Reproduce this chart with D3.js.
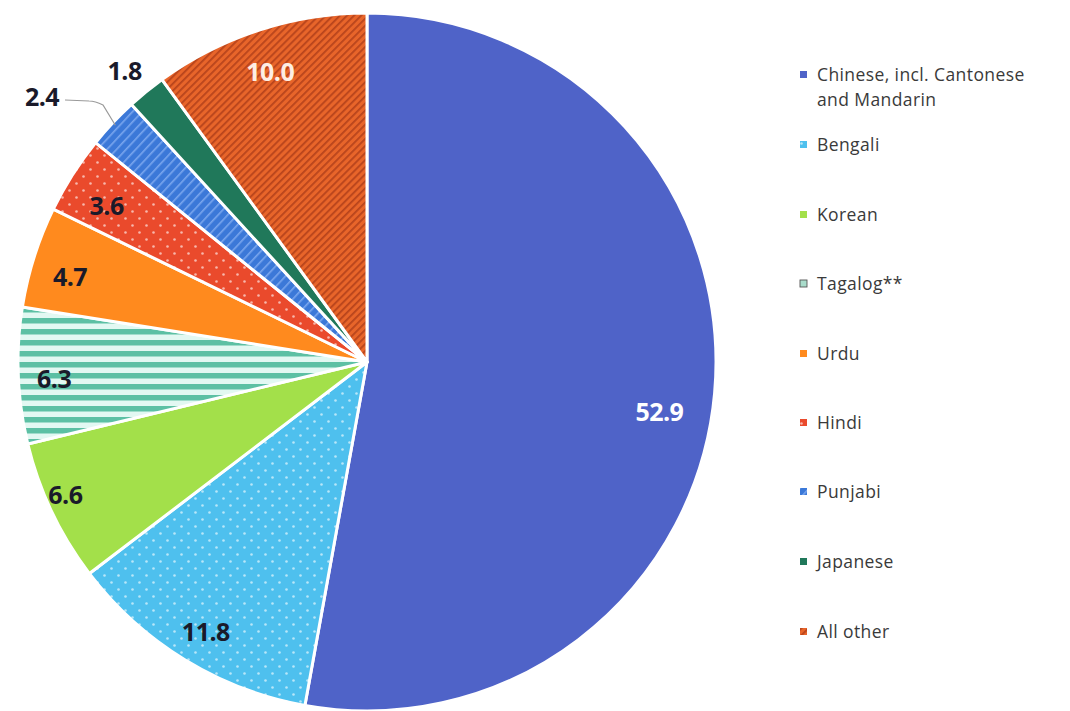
<!DOCTYPE html>
<html><head><meta charset="utf-8">
<script src="https://cdn.jsdelivr.net/npm/d3@7"></script>
<style>body{margin:0;background:#fff;}svg{display:block;}</style>
</head><body>
<svg id="chart" width="1070" height="711"></svg>
<script>
const categories = ["Chinese, incl. Cantonese and Mandarin","Bengali","Korean","Tagalog**","Urdu","Hindi","Punjabi","Japanese","All other"];
const legendLines = [["Chinese, incl. Cantonese","and Mandarin"],["Bengali"],["Korean"],["Tagalog**"],["Urdu"],["Hindi"],["Punjabi"],["Japanese"],["All other"]];
const values = [52.9, 11.8, 6.6, 6.3, 4.7, 3.6, 2.4, 1.8, 10.0];
const labels = ["52.9","11.8","6.6","6.3","4.7","3.6","2.4","1.8","10.0"];
const colors = ["#4f63c8","#4ec0ee","#a3e04a","#5cc0a4","#ff8a1e","#ea4a2c","#3b78d8","#20785a","#e8652a"];
const patterns = ["none","dots","none","hstripes","none","dots","dstripes","none","diag"];
const labelColors = ["#fff","#1a1a2a","#1a1a2a","#1a1a2a","#1a1a2a","#1a1a2a","#1a1a2a","#1a1a2a","#fdeee4"];

const svg = d3.select("#chart");
const defs = svg.append("defs");
const cx = 367, cy = 362, R = 349;
const FONT = "'Open Sans', Roboto, 'Liberation Sans', sans-serif";

function makePattern(i){
  const id = "pat"+i, c = colors[i], t = patterns[i];
  if (t === "none") return c;
  if (t === "dots"){
    const p = defs.append("pattern").attr("id",id).attr("patternUnits","userSpaceOnUse").attr("width",14).attr("height",14);
    p.append("rect").attr("width",14).attr("height",14).attr("fill",c);
    p.append("circle").attr("cx",3.5).attr("cy",3.5).attr("r",1.3).attr("fill","#fff").attr("opacity",0.6);
    p.append("circle").attr("cx",10.5).attr("cy",10.5).attr("r",1.3).attr("fill","#fff").attr("opacity",0.6);
  } else if (t === "hstripes"){
    const p = defs.append("pattern").attr("id",id).attr("patternUnits","userSpaceOnUse").attr("width",10).attr("height",11);
    p.append("rect").attr("width",10).attr("height",11).attr("fill","#e2f8f2");
    p.append("rect").attr("y",0).attr("width",10).attr("height",5.5).attr("fill",c);
  } else if (t === "dstripes"){
    const p = defs.append("pattern").attr("id",id).attr("patternUnits","userSpaceOnUse").attr("width",7).attr("height",7).attr("patternTransform","rotate(-47)");
    p.append("rect").attr("width",7).attr("height",7).attr("fill",c);
    p.append("rect").attr("width",7).attr("height",1.6).attr("fill","#7aa6ee");
  } else if (t === "diag"){
    const p = defs.append("pattern").attr("id",id).attr("patternUnits","userSpaceOnUse").attr("width",5).attr("height",5).attr("patternTransform","rotate(45)");
    p.append("rect").attr("width",5).attr("height",5).attr("fill",c);
    p.append("rect").attr("width",1.8).attr("height",5).attr("fill","#b8441c");
  }
  return "url(#"+id+")";
}
const fills = colors.map((c,i)=>makePattern(i));

const pie = d3.pie().sort(null).value(d=>d);
const arcs = pie(values);
const arc = d3.arc().innerRadius(0).outerRadius(R);
const g = svg.append("g").attr("transform",`translate(${cx},${cy})`);
g.selectAll("path").data(arcs).join("path")
  .attr("d",arc).attr("fill",(d,i)=>fills[i])
  .attr("stroke","#fff").attr("stroke-width",3).attr("stroke-linejoin","round");

// label placement (angle shift in degrees, radius factor)
const deg = Math.PI/180;
const place = {0:[4.6,0.85],1:[-0.6,0.9],2:[1.6,0.945],3:[-0.9,0.898],4:[-1.6,0.885],5:[-1.5,0.87],8:[-0.5,0.875]};
function polar(a, r){ return [Math.sin(a)*r, -Math.cos(a)*r]; }
arcs.forEach((d,i)=>{
  const mid = (d.startAngle+d.endAngle)/2;
  let x,y;
  if (i === 6){
    const p0 = polar(mid, R*0.99);
    const p1 = [65-cx+30, 100-cy+1];
    const p2 = [65-cx, 100-cy];
    g.append("path").attr("d",`M${p0[0]},${p0[1]} L${p1[0]+8},${p1[1]+4} Q${p1[0]},${p1[1]} ${p1[0]-6},${p1[1]} L${p2[0]},${p2[1]}`)
      .attr("fill","none").attr("stroke","#9a9a9a").attr("stroke-width",1.2);
    x = p2[0]-23; y = p2[1]-3;
  } else if (i === 7){
    [x,y] = polar(mid - 0.6*deg, R*1.085);
  } else {
    const [s,f] = place[i];
    [x,y] = polar(mid + s*deg, R*f);
  }
  g.append("text").attr("x",x).attr("y",y).attr("dy","0.36em")
    .attr("text-anchor","middle").attr("font-family",FONT)
    .attr("font-weight",700).attr("font-size",25).attr("letter-spacing",-0.5)
    .attr("fill",labelColors[i]).text(labels[i]);
});

// legend
const ly = [75,145,215,284,354,423,492,562,632];
const lg = svg.append("g");
categories.forEach((c,i)=>{
  const y = ly[i];
  const isStripe = patterns[i]==="hstripes";
  lg.append("rect").attr("x",800).attr("y",y-4).attr("width",7).attr("height",7)
    .attr("fill", isStripe ? "#a9dccb" : fills[i])
    .attr("stroke", isStripe ? "#555" : "none").attr("stroke-width",0.9);
  legendLines[i].forEach((t,j)=>{
    lg.append("text").attr("x",817).attr("y",y+j*25).attr("dy","0.35em")
      .attr("font-family",FONT).attr("font-size",17.5).attr("letter-spacing",0.4)
      .attr("fill","#3a3a3a").text(t);
  });
});
</script>
</body></html>
